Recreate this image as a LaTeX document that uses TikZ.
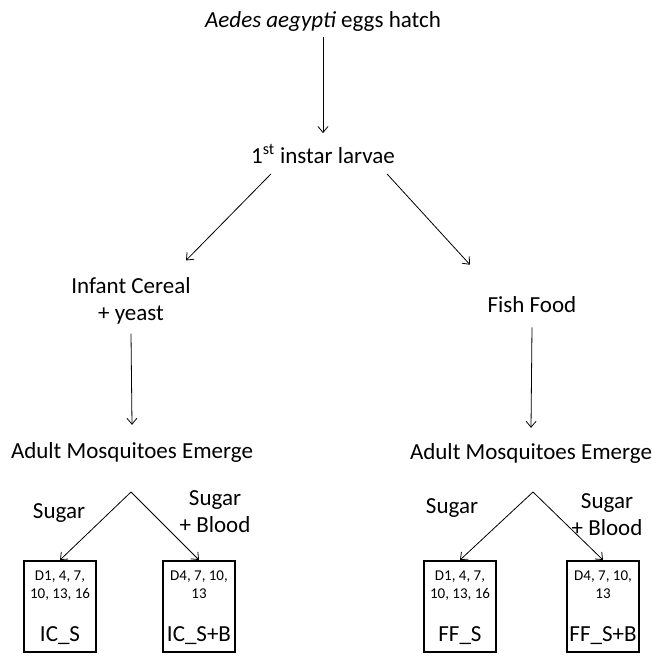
\documentclass[tikz,border=0pt]{standalone}
\usepackage{fontspec}
\setmainfont{Carlito}
\usepackage{tikz}
\usetikzlibrary{arrows.meta,positioning,calc}

\begin{document}
\begin{tikzpicture}[x=1pt,y=-1pt,font=\fontsize{23}{27}\selectfont,
    txt/.style={inner sep=0pt,align=center},
    arr/.style={-{Straight Barb[length=6pt,width=10pt]},line width=0.8pt},
    cage/.style={draw,line width=2pt,minimum width=72pt,minimum height=91pt}]
  \useasboundingbox (0,0) rectangle (652,656);
  % stages
  \node[txt] (eggs)     at (323,21)  {\textit{Aedes aegypti} eggs hatch};
  \node[txt] (larvae)   at (323,154) {1\textsuperscript{st} instar larvae};
  \node[txt] (ic-food)  at (131,301) {Infant Cereal\\+ yeast};
  \node[txt] (ff-food)  at (532,305) {Fish Food};
  \node[txt] (ic-adult) at (132,452) {Adult Mosquitoes Emerge};
  \node[txt] (ff-adult) at (531,453) {Adult Mosquitoes Emerge};
  \draw[arr] ([yshift=-6pt]eggs.south) -- ([yshift=11pt]larvae.north);
  \draw[arr] ($(larvae.south)+(-52,10)$) -- ($(ic-food.north)+(55,-17)$);
  \draw[arr] ($(larvae.south)+(64,10)$) -- ($(ff-food.north)+(-62,-32)$);
  \draw[arr] ([yshift=-9pt]ic-food.south) -- ([yshift=17pt]ic-adult.north);
  \draw[arr] ([yshift=-14pt]ff-food.south) -- ([yshift=15pt]ff-adult.north);
  % diets
  \foreach \p/\x in {ic/131,ff/533}
    \coordinate (\p-fork) at (\x,492);
  \node[txt] (ic-sugar) at (59,513)  {Sugar};
  \node[txt] (ic-blood) at (215,512) {Sugar\\+ Blood};
  \node[txt] (ff-sugar) at (452,508) {Sugar};
  \node[txt] (ff-blood) at (607,515) {Sugar\\+ Blood};
  % sampling groups
  \foreach \p/\q/\x/\days/\lab in {ic/s/60/{D1, 4, 7,\\10, 13, 16}/IC\_S,
      ic/sb/199/{D4, 7, 10,\\13}/IC\_S+B, ff/s/460/{D1, 4, 7,\\10, 13, 16}/FF\_S,
      ff/sb/603/{D4, 7, 10,\\13}/FF\_S+B} {
    \node[cage] (\p-\q) at (\x,606.5) {};
    \node[txt,font=\fontsize{15}{18}\selectfont,anchor=north] (\p-\q-days)
      at ([yshift=-11pt]\p-\q.north) {\days};
    \node[txt,anchor=base] (\p-\q-lab) at ([yshift=12pt]\p-\q.south) {\lab};
    \draw[arr] (\p-fork) -- (\p-\q.north);
  }
\end{tikzpicture}
\end{document}
